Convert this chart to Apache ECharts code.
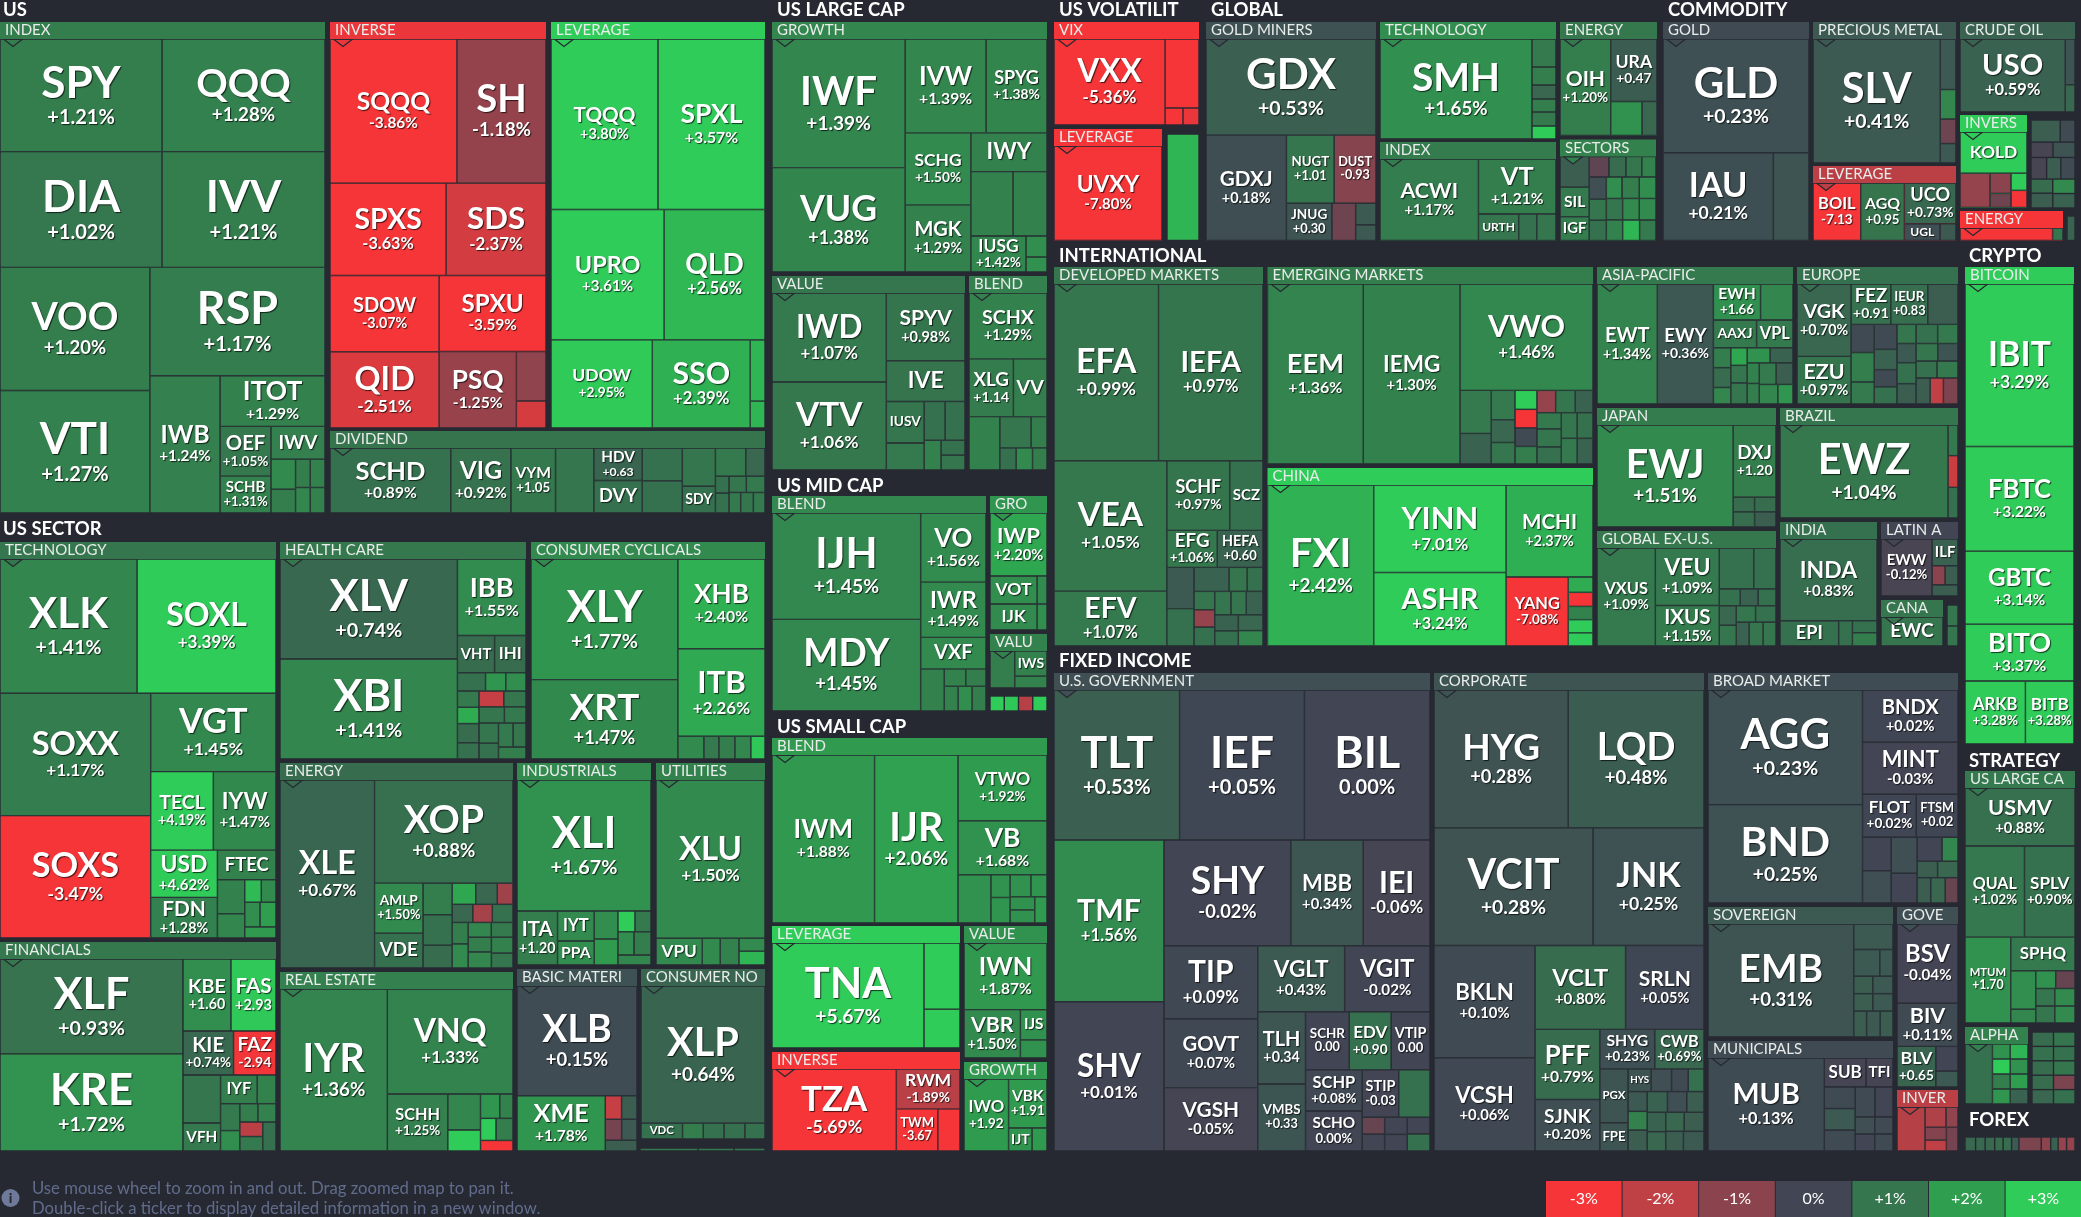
<!DOCTYPE html>
<html><head><meta charset="utf-8"><style>html,body{margin:0;padding:0;background:#262931}#c{width:2081px;height:1217px}</style>
<script src="https://cdn.jsdelivr.net/npm/echarts@6/dist/echarts.min.js"></script></head><body><div id="c"></div>
<script>
// Strings in a *Changes array are printed on the tile; plain numbers only set its colour. Tickers beyond the list are unlabelled.
const indexTickers=['SPY','QQQ','DIA','IVV','VOO','VTI','RSP','IWB','ITOT','OEF','SCHB','IWV'];
const indexWeights=[18100,18200,18600,18700,18300,18200,18800,9500,5200,2450,1800,1700,690,540,380,380,340,340];
const indexChanges=['+1.21%','+1.28%','+1.02%','+1.21%','+1.20%','+1.27%','+1.17%','+1.24%','+1.29%','+1.05%','+1.31%',1.25,1.5,1.2,1.2,1.3,1.4,1.3];
const inverseTickers=['SQQQ','SH','SPXS','SDS','SDOW','QID','SPXU','PSQ'];
const inverseWeights=[18150,12700,10600,9100,8200,8200,8000,5800,1400,750];
const inverseChanges=['-3.86%','-1.18%','-3.63%','-2.37%','-3.07%','-2.51%','-3.59%','-1.25%',-1.1,-2.4];
const leverageTickers=['TQQQ','SPXL','UPRO','QLD','UDOW','SSO'];
const leverageWeights=[18100,18100,14600,13000,8800,8500,850,360];
const leverageChanges=['+3.80%','+3.57%','+3.61%','+2.56%','+2.95%','+2.39%',2.5,2.5];
const dividendTickers=['SCHD','VIG','VYM','','HDV','DVY','','','','SDY'];
const dividendWeights=[7700,3800,2800,2400,1500,1500,1250,1220,1200,830,800,500,200,240,250,270,210,230,210];
const dividendChanges=['+0.89%','+0.92%','+1.05',1.0,'+0.63',0.9,0.9,0.9,1.0,0.9,1.1,0.7,0.9,0.9,1.0,1.1,1.1,1.0,1.1];
const techTickers=['XLK','SOXL','SOXX','SOXS','VGT','TECL','IYW','USD','FDN','FTEC'];
const techWeights=[18360,18600,18400,18400,9750,4840,4840,3080,2640,1670,880,620,340,300,345,360,315];
const techChanges=['+1.41%','+3.39%','+1.17%','-3.47%','+1.45%','+4.19%','+1.47%','+4.62%','+1.28%',1.3,1.3,1.4,2.6,1.5,1.6,2.0,1.9];
const healthTickers=['XLV','XBI','IBB','VHT','IHI'];
const healthWeights=[17800,17800,5200,1330,1120,480,340,340,320,320,380,320,360,320,380,320,360,280,320,280,300];
const healthChanges=['+0.74%','+1.41%','+1.55%',0.8,0.8,0.9,1.8,1.6,1.1,2.3,0.8,0.9,-2.1,1.0,1.0,1.1,1.0,0.9,1.1,1.0,1.2];
const cyclicalTickers=['XLY','XRT','XHB','ITB'];
const cyclicalWeights=[17700,11600,7750,7560,550,310,330,330,290];
const cyclicalChanges=['+1.77%','+1.47%','+2.40%','+2.26%',1.5,1.1,1.2,1.4,2.9];
const financialTickers=['XLF','KRE','KBE','FAS','KIE','FAZ','','VFH','IYF'];
const financialWeights=[17300,17700,3380,3170,2150,1800,1740,1000,1000,500,480,360,300,300,300,300,350];
const financialChanges=['+0.93%','+1.72%','+1.60','+2.93','+0.74%','-2.94',1.0,1.1,1.2,1.3,1.1,1.6,1.2,1.3,-1.9,1.1,0.9];
const energyTickers=['XLE','XOP','AMLP','VDE'];
const energyWeights=[17700,14200,2350,1630,870,840,620,460,420,300,340,320,340,310,350,310,290,310,340,310,290];
const energyChanges=['+0.67%','+0.88%','+1.50%',0.9,1.2,0.9,0.8,2.2,0.7,-1.4,0.7,-1.5,0.9,1.2,1.5,1.4,1.1,1.2,1.4,1.3,1.0];
const industrialTickers=['XLI','ITA','IYT','PPA'];
const industrialWeights=[17500,2120,1050,830,620,575,320,300,340,360,300];
const industrialChanges=['+1.67%','+1.20',1.5,1.6,1.6,1.9,3.0,1.1,1.6,1.2,1.4];
const utilityTickers=['XLU','VPU'];
const utilityWeights=[17400,1200,450,470,310,330];
const utilityChanges=['+1.50%',1.5,1.5,1.3,1.5,2.5];
const realEstateTickers=['IYR','VNQ','SCHH'];
const realEstateWeights=[17300,13100,3360,1120,640,430,290,310,340,310];
const realEstateChanges=['+1.36%','+1.33%','+1.25%',1.4,3.0,1.8,1.3,3.0,1.2,-3.0];
const basicTickers=['XLB','XME'];
const basicWeights=[13100,4800,350,330,310,290,310];
const basicChanges=['+0.15%','+1.78%',-2.1,0.5,-0.7,0.4,0.5];
const staplesTickers=['XLP','VDC'];
const staplesWeights=[17000,620,300,300,300,290];
const staplesChanges=['+0.64%',0.9,1.2,0.9,0.9,0.9];
const commsWeights=[228,136,116];
const commsChanges=[1.1,1.1,1.0];
const growthTickers=['IWF','VUG','IVW','SPYG','SCHG','MGK','IWY','','','IUSG'];
const growthWeights=[16900,13700,7440,5580,4600,4290,2850,2620,2100,1900,400,280];
const growthChanges=['+1.39%','+1.38%','+1.39%','+1.38%','+1.50%','+1.29%',1.3,1.3,1.3,'+1.42%',1.6,1.7];
const valueTickers=['IWD','VTV','SPYV','IVE','IUSV'];
const valueWeights=[10000,9900,5200,3100,1500,960,760,720,460,320,320];
const valueChanges=['+1.07%','+1.06%','+0.98%',0.95,1.0,1.1,0.9,0.9,1.3,0.9,1.0];
const blendTickers=['SCHX','XLG','VV'];
const blendWeights=[5070,2500,1880,1590,930,460,330,330,290];
const blendChanges=['+1.29%','+1.14',1.2,1.3,1.0,1.2,0.9,1.5,1.2];
const midBlendTickers=['IJH','MDY','VO','IWR','VXF'];
const midBlendWeights=[15700,13500,4420,3520,1980,940,340,320,310,310,310];
const midBlendChanges=['+1.45%','+1.45%','+1.56%','+1.49%',1.5,1.3,1.3,1.2,1.3,1.6,1.2];
const midGrowthTickers=['IWP','VOT','IJK'];
const midGrowthWeights=[3530,1270,1180,250,230];
const midGrowthChanges=['+2.20%',1.6,1.5,1.5,1.6];
const midValueTickers=['','IWS'];
const midValueWeights=[870,770,350];
const midValueChanges=[1.2,1.3,1.3];
const midOtherWeights=[210,210,210,210];
const midOtherChanges=[3.2,2.9,-1.8,3.2];
const smallBlendTickers=['IWM','IJR','VTWO','VB'];
const smallBlendWeights=[17100,13900,5740,4700,1520,400,450,420,320,290,290,290];
const smallBlendChanges=['+1.88%','+2.06%','+1.92%','+1.68%',1.7,1.7,1.8,1.7,1.8,1.7,1.7,1.9];
const smallLeverageTickers=['TNA'];
const smallLeverageWeights=[15800,2300,1330];
const smallLeverageChanges=['+5.67%',3.5,3.5];
const smallValueTickers=['IWN','VBR','IJS'];
const smallValueWeights=[5400,2630,750,440];
const smallValueChanges=['+1.87%','+1.50%',1.7,1.7];
const smallInverseTickers=['TZA','RWM','TWM'];
const smallInverseWeights=[9840,2400,1640,860];
const smallInverseChanges=['-5.69%','-1.89%','-3.67',-3.8];
const smallGrowthTickers=['IWO','VBK','IJT'];
const smallGrowthWeights=[3120,1810,500,310];
const smallGrowthChanges=['+1.92','+1.91',1.8,1.9];
const vixTickers=['VXX'];
const vixWeights=[9350,2240,270,240];
const vixChanges=['-5.36%',-3.6,-3.5,-2.8];
const volLeverageTickers=['UVXY'];
const volLeverageWeights=[10150];
const volLeverageChanges=['-7.80%'];
const volOtherWeights=[3400];
const volOtherChanges=[2.5];
const minersTickers=['GDX','GDXJ','NUGT','DUST','JNUG'];
const minersWeights=[16150,8320,3150,2750,1620,830,400,285];
const minersChanges=['+0.53%','+0.18%','+1.01','-0.93','+0.30',-0.6,0.4,0.4];
const globalTechTickers=['SMH'];
const globalTechWeights=[14900,620,390,300,276,300,276];
const globalTechChanges=['+1.65%',1.1,1.2,0.7,1.2,1.1,3.0];
const globalIndexTickers=['ACWI','VT','URTH'];
const globalIndexWeights=[7900,4160,1010,440,470];
const globalIndexChanges=['+1.17%','+1.21%',1.0,0.9,1.0];
const globalEnergyTickers=['OIH','URA'];
const globalEnergyWeights=[4700,2750,990,460];
const globalEnergyChanges=['+1.20%','+0.47',1.7,0.7];
const sectorsTickers=['','SIL','IGF'];
const sectorsWeights=[780,750,600,340,290,270,240,320,300,290,280,310,300,290,280,300,300,290,280];
const sectorsChanges=[0.5,1.1,1.2,-0.4,0.8,1.0,1.3,0.2,1.0,0.9,1.6,1.2,1.6,1.0,1.3,1.5,1.5,2.5,1.1];
const goldTickers=['GLD','IAU'];
const goldWeights=[16500,9570,3045];
const goldChanges=['+0.23%','+0.21%',0.3];
const preciousTickers=['SLV'];
const preciousWeights=[15500,735,420,345,270];
const preciousChanges=['+0.41%',0.4,1.4,-0.6,0.4];
const commodityLevTickers=['BOIL','AGQ','UCO','UGL'];
const commodityLevWeights=[2680,2450,2040,560,240];
const commodityLevChanges=['-7.13','+0.95','+0.73%',0.2,0.4];
const crudeTickers=['USO'];
const crudeWeights=[7490,405,234];
const crudeChanges=['+0.59%',0.3,0.7];
const commodityInvTickers=['KOLD'];
const commodityInvWeights=[2640,960,380,260,240,240];
const commodityInvChanges=[3.0,-1.2,-1.0,-0.6,3.0,-3.0];
const commodityOtherWeights=[610,300,310,310,310,280,280,280,295,295,295];
const commodityOtherChanges=[0.5,0.1,-0.1,0.3,-0.1,0.5,0.1,0.8,0.5,1.5,0.6];
const commodityEnergyWeights=[1012,100];
const commodityEnergyChanges=[-3.2,1.0];
const commodityLastWeights=[196];
const commodityLastChanges=[0.6];
const developedTickers=['EFA','IEFA','VEA','EFV','SCHF','SCZ','EFG','HEFA'];
const developedWeights=[18100,18100,14400,6000,4230,2210,1770,1600,1050,950,780,390,340,340,320,350,340,320,350,340,320,350,340];
const developedChanges=['+0.99%','+0.97%','+1.05%','+1.07%','+0.97%',0.9,'+1.06%','+0.60',0.4,0.9,0.6,1.0,0.9,1.0,-1.2,0.9,1.0,1.0,0.6,0.6,0.9,0.7,1.4];
const emergingTickers=['EEM','IEMG','VWO'];
const emergingWeights=[17100,17280,14000,1280,900,650,500,470,380,370,370,350,380,400,360,360,400,380,370,370,370,370];
const emergingChanges=['+1.36%','+1.30%','+1.46%',1.1,0.6,1.1,0.7,1.0,3.0,-3.2,0.1,1.2,-1.2,1.0,0.6,1.1,1.0,0.9,1.0,0.9,1.1,0.6];
const chinaTickers=['FXI','YINN','ASHR','MCHI','YANG'];
const chinaWeights=[16800,11350,9500,7800,4150,340,310,290,290,290];
const chinaChanges=['+2.42%','+7.01%','+3.24%','+2.37%','-7.08%',2.3,-3.2,1.3,3.0,3.0];
const asiaTickers=['EWT','EWY','EWH','','AAXJ','VPL'];
const asiaWeights=[7000,6500,1600,1090,1120,940,306,306,252,252,252,306,306,306,216,216,323,323,323,260];
const asiaChanges=['+1.34%','+0.36%','+1.66',1.4,1.1,1.1,1.2,0.8,1.4,2.2,1.0,1.0,1.7,0.6,1.3,1.2,1.1,0.5,1.4,1.8];
const europeTickers=['VGK','EZU','FEZ','IEUR'];
const europeWeights=[3460,2260,1390,1290,1050,550,575,425,475,380,320,320,300,340,320,300,330,320,310,290,290,290,300,280,310];
const europeChanges=['+0.70%','+0.97%','+0.91','+0.83',0.5,0.1,1.2,1.1,0.1,0.6,0.1,0.9,1.0,0.9,1.1,0.4,0.9,0.5,1.0,0.3,0.9,1.1,0.5,-2.0,-0.8];
const japanTickers=['EWJ','DXJ'];
const japanWeights=[13800,3020,280,294,280,294];
const japanChanges=['+1.51%','+1.20',0.8,0.8,0.8,0.5];
const globalExTickers=['VXUS','VEU','IXUS'];
const globalExWeights=[5630,3590,2520,1350,860,320,270,270,300,320,285,304,276,300,276];
const globalExChanges=['+1.09%','+1.09%','+1.15%',0.9,0.9,0.9,0.6,0.9,0.7,1.0,1.0,0.9,0.6,1.0,1.0];
const brazilTickers=['EWZ'];
const brazilWeights=[15400,270,280,270];
const brazilChanges=['+1.04%',1.1,-2.2,0.9];
const indiaTickers=['INDA','EPI'];
const indiaWeights=[7700,1400,310,260,290];
const indiaChanges=['+0.83%',0.9,0.9,0.9,1.2];
const latinTickers=['EWW','ILF'];
const latinWeights=[2850,650,220,220,260];
const latinChanges=['-0.12%',0.6,-1.0,0.5,0.5];
const canadaTickers=['EWC'];
const canadaWeights=[1740];
const canadaChanges=[1.0];
const intlOtherWeights=[231,220];
const intlOtherChanges=[1.0,1.0];
const bitcoinTickers=['IBIT','FBTC','GBTC','BITO','ARKB','BITB'];
const bitcoinWeights=[17600,11300,7850,6100,3720,2980];
const bitcoinChanges=['+3.29%','+3.22%','+3.14%','+3.37%','+3.28%','+3.28%'];
const usLargeTickers=['USMV','QUAL','SPLV','MTUM','SPHQ'];
const usLargeWeights=[6270,5310,4500,3830,2080,910,310,320,310,300,290,320,310];
const usLargeChanges=['+0.88%','+1.02%','+0.90%','+1.70',1.1,1.6,1.4,1.7,-0.5,1.0,1.0,1.5,1.5];
const alphaWeights=[1600,240,240,240,240,240,240,240,240];
const alphaChanges=[0.9,1.7,2.5,3.0,1.7,1.2,1.8,2.0,0.6];
const strategyOtherWeights=[280,280,280,280,280,280,280,280,280,280];
const strategyOtherChanges=[0.8,1.0,0.9,0.9,0.8,1.0,0.8,0.7,-0.8,0.9];
const forexWeights=[126,112,112,98,98,84,280,112,84,98,98];
const forexChanges=[0.7,0.7,0.7,0.8,0.8,0.4,-0.8,-1.0,0.6,-1.2,-1.2];
const govTickers=['TLT','IEF','BIL','TMF','SHV','SHY','MBB','IEI','TIP','GOVT','VGSH','VGLT','VGIT','TLH','VMBS','SCHR','EDV','VTIP','SCHP','SCHO','STIP'];
const govWeights=[18600,18500,18600,17550,16200,13200,7500,6900,6700,6300,5800,5600,5500,3340,3100,2450,2340,2170,2240,2180,1650,1410,340,340,350,340,340,350];
const govChanges=['+0.53%','+0.05%','0.00%','+1.56%','+0.01%','-0.02%','+0.34%','-0.06%','+0.09%','+0.07%','-0.05%','+0.43%','-0.02%','+0.34','+0.33','0.00','+0.90','0.00','+0.08%','0.00%','-0.03',0.9,-0.5,-0.02,0.0,0.0,0.0,0.9];
const corpTickers=['HYG','LQD','VCIT','JNK','BKLN','VCSH','VCLT','SRLN','PFF','SJNK','SHYG','CWB','PGX','FPE','HYS'];
const corpWeights=[18200,18400,18400,12800,11100,9200,7400,6400,4400,3220,2070,1850,1440,740,480,420,340,320,340,320,360,380,360,320,320,320,315,338,312,364];
const corpChanges=['+0.28%','+0.48%','+0.28%','+0.25%','+0.10%','+0.06%','+0.80%','+0.05%','+0.79%','+0.20%','+0.23%','+0.69%',0.3,0.3,0.3,0.2,0.1,0.9,0.4,1.3,0.5,0.6,0.2,0.5,0.6,0.7,0.7,0.5,0.5,0.4];
const broadTickers=['AGG','BND','BNDX','MINT','FLOT','FTSM'];
const broadWeights=[17500,15000,4850,4850,2230,1720,900,870,875,720,550,345,300,300,310,330,290];
const broadChanges=['+0.23%','+0.25%','+0.02%','-0.03%','+0.02%','+0.02',0.0,0.2,0.2,0.0,0.0,1.4,0.5,0.7,0.5,0.7,-0.5];
const sovereignTickers=['EMB'];
const sovereignWeights=[16400,950,650,320,300,320,300,320,300,320,300];
const sovereignChanges=['+0.31%',0.4,0.4,0.4,0.5,0.4,0.5,0.4,0.5,0.4,0.5];
const govSubTickers=['BSV','BIV','BLV'];
const govSubWeights=[4760,2560,1520,510,320];
const govSubChanges=['-0.04%','+0.11%','+0.65',0.0,0.4];
const muniTickers=['MUB','SUB','TFI'];
const muniWeights=[10700,1150,730,620,620,600,550,500,300,300,280,280];
const muniChanges=['+0.13%',-0.05,-0.05,0.1,0.4,0.1,0.1,0.0,0.2,0.0,0.1,0.1];
const bondInvWeights=[1150,380,210,240,200,240];
const bondInvChanges=[-1.8,-1.7,-1.1,-0.9,-2.0,-0.7];

const sectionTitles=['US','US SECTOR','US LARGE CAP','US VOLATILIT','GLOBAL','COMMODITY','US MID CAP','US SMALL CAP','INTERNATIONAL','CRYPTO','FIXED INCOME','STRATEGY','FOREX'];
const legendLabels=['-3%','-2%','-1%','0%','+1%','+2%','+3%'];
const legendChanges=[-3,-2,-1,0,1,2,3];
const hintLines=['Use mouse wheel to zoom in and out. Drag zoomed map to pan it.','Double-click a ticker to display detailed information in a new window.'];

// ---------- page layout (containers, not data) ----------
const sectionPos=[[3,10],[3,529],[777,10],[1059,10],[1211,10],[1668,10],[777,486],[777,727],[1059,256],[1969,256],[1059,661],[1969,761],[1969,1120]];
const P=(name,box,head,t,w,c)=>({name,box,head,t,w,c});
const panels=[
P('INDEX',[0,22,325,513],1.2,indexTickers,indexWeights,indexChanges),
P('INVERSE',[330,22,546,428],-2.8,inverseTickers,inverseWeights,inverseChanges),
P('LEVERAGE',[551,22,765,428],3.2,leverageTickers,leverageWeights,leverageChanges),
P('DIVIDEND',[330,431,765,513],0.95,dividendTickers,dividendWeights,dividendChanges),
P('TECHNOLOGY',[0,542,276,938],1.0,techTickers,techWeights,techChanges),
P('HEALTH CARE',[280,542,526,759],1.05,healthTickers,healthWeights,healthChanges),
P('CONSUMER CYCLICALS',[531,542,765,759],1.5,cyclicalTickers,cyclicalWeights,cyclicalChanges),
P('FINANCIALS',[0,942,276,1151],1.05,financialTickers,financialWeights,financialChanges),
P('ENERGY',[280,763,513,968],0.8,energyTickers,energyWeights,energyChanges),
P('INDUSTRIALS',[517,763,651,965],1.5,industrialTickers,industrialWeights,industrialChanges),
P('UTILITIES',[656,763,765,965],1.3,utilityTickers,utilityWeights,utilityChanges),
P('REAL ESTATE',[280,972,513,1151],1.25,realEstateTickers,realEstateWeights,realEstateChanges),
P('BASIC MATERI',[517,969,637,1151],0.25,basicTickers,basicWeights,basicChanges),
P('CONSUMER NO',[641,969,765,1139],0.65,staplesTickers,staplesWeights,staplesChanges),
P('',[640,1148,765,1151],0,[],commsWeights,commsChanges),
P('GROWTH',[772,22,1047,272],1.4,growthTickers,growthWeights,growthChanges),
P('VALUE',[772,276,965,470],1.0,valueTickers,valueWeights,valueChanges),
P('BLEND',[969,276,1047,470],1.25,blendTickers,blendWeights,blendChanges),
P('BLEND',[772,496,986,711],1.45,midBlendTickers,midBlendWeights,midBlendChanges),
P('GRO',[990,496,1047,630],1.8,midGrowthTickers,midGrowthWeights,midGrowthChanges),
P('VALU',[990,634,1047,688],1.3,midValueTickers,midValueWeights,midValueChanges),
P('',[990,696,1047,711],0,[],midOtherWeights,midOtherChanges),
P('BLEND',[772,738,1047,923],1.9,smallBlendTickers,smallBlendWeights,smallBlendChanges),
P('LEVERAGE',[772,926,960,1048],3.5,smallLeverageTickers,smallLeverageWeights,smallLeverageChanges),
P('VALUE',[964,926,1047,1058],1.7,smallValueTickers,smallValueWeights,smallValueChanges),
P('INVERSE',[772,1052,960,1151],-3.4,smallInverseTickers,smallInverseWeights,smallInverseChanges),
P('GROWTH',[964,1062,1047,1151],1.85,smallGrowthTickers,smallGrowthWeights,smallGrowthChanges),
P('VIX',[1054,22,1199,125],-3.5,vixTickers,vixWeights,vixChanges),
P('LEVERAGE',[1054,129,1162,240.5],-3.5,volLeverageTickers,volLeverageWeights,volLeverageChanges),
P('',[1167,134,1199,240.5],0,[],volOtherWeights,volOtherChanges),
P('GOLD MINERS',[1206,22,1376,240.5],0.25,minersTickers,minersWeights,minersChanges),
P('TECHNOLOGY',[1380,22,1556,139],1.6,globalTechTickers,globalTechWeights,globalTechChanges),
P('INDEX',[1380,142,1556,240.5],1.15,globalIndexTickers,globalIndexWeights,globalIndexChanges),
P('ENERGY',[1560,22,1657,135.5],1.05,globalEnergyTickers,globalEnergyWeights,globalEnergyChanges),
P('SECTORS',[1560,139.5,1656,240.5],1.3,sectorsTickers,sectorsWeights,sectorsChanges),
P('GOLD',[1663,22,1809,240.5],0.1,goldTickers,goldWeights,goldChanges),
P('PRECIOUS METAL',[1813,22,1956,163],0.4,preciousTickers,preciousWeights,preciousChanges),
P('LEVERAGE',[1813,166,1956,240.5],-1.9,commodityLevTickers,commodityLevWeights,commodityLevChanges),
P('CRUDE OIL',[1960,22,2075,112],0.6,crudeTickers,crudeWeights,crudeChanges),
P('INVERS',[1960,115,2027,207.5],3.2,commodityInvTickers,commodityInvWeights,commodityInvChanges),
P('',[2031,120,2075,208],0,[],commodityOtherWeights,commodityOtherChanges),
P('ENERGY',[1960,211,2063,240.5],-3.2,[],commodityEnergyWeights,commodityEnergyChanges),
P('',[2067,216,2075,240.5],0,[],commodityLastWeights,commodityLastChanges),
P('DEVELOPED MARKETS',[1054,267,1263,646],1.0,developedTickers,developedWeights,developedChanges),
P('EMERGING MARKETS',[1267.5,267,1593,464],1.2,emergingTickers,emergingWeights,emergingChanges),
P('CHINA',[1267.5,468,1593,646],3.2,chinaTickers,chinaWeights,chinaChanges),
P('ASIA-PACIFIC',[1597,267,1793,404],1.1,asiaTickers,asiaWeights,asiaChanges),
P('EUROPE',[1797,267,1958,404],0.9,europeTickers,europeWeights,europeChanges),
P('JAPAN',[1597,408,1776,527],1.15,japanTickers,japanWeights,japanChanges),
P('GLOBAL EX-U.S.',[1597,531,1776,646],1.05,globalExTickers,globalExWeights,globalExChanges),
P('BRAZIL',[1780,408,1958,518],1.0,brazilTickers,brazilWeights,brazilChanges),
P('INDIA',[1780,522,1877,646],0.9,indiaTickers,indiaWeights,indiaChanges),
P('LATIN A',[1881,522,1958,596],0.0,latinTickers,latinWeights,latinChanges),
P('CANA',[1881,600,1943,646],1.0,canadaTickers,canadaWeights,canadaChanges),
P('',[1947,605,1958,646],0,[],intlOtherWeights,intlOtherChanges),
P('BITCOIN',[1965,267,2074,744],3.2,bitcoinTickers,bitcoinWeights,bitcoinChanges),
P('US LARGE CA',[1965,771,2075,1023],1.1,usLargeTickers,usLargeWeights,usLargeChanges),
P('ALPHA',[1965,1027,2028,1104],1.3,[],alphaWeights,alphaChanges),
P('',[2032,1032,2075,1104],0,[],strategyOtherWeights,strategyOtherChanges),
P('',[1965,1137,2075,1151],0,[],forexWeights,forexChanges),
P('U.S. GOVERNMENT',[1054,673,1430,1151],0.2,govTickers,govWeights,govChanges),
P('CORPORATE',[1434,673,1704,1151],0.3,corpTickers,corpWeights,corpChanges),
P('BROAD MARKET',[1708,673,1958,903],0.15,broadTickers,broadWeights,broadChanges),
P('SOVEREIGN',[1708,907,1893,1037],0.4,sovereignTickers,sovereignWeights,sovereignChanges),
P('GOVE',[1897,907,1958,1087],0.2,govSubTickers,govSubWeights,govSubChanges),
P('MUNICIPALS',[1708,1041,1893,1151],0.1,muniTickers,muniWeights,muniChanges),
P('INVER',[1897,1090,1958,1151],-1.9,[],bondInvWeights,bondInvChanges)
];
const BG='#262931', FONT='Lato', W='700', HEAD=17, EDGE=.7;
const stops=[[-3,[246,53,56]],[-2,[191,64,69]],[-1,[139,68,78]],[0,[65,69,84]],[1,[53,118,78]],[2,[47,158,79]],[3,[48,204,90]]];
function col(v){
  v=Math.max(-3,Math.min(3,v));
  for(let i=0;i<6;i++){const a=stops[i],b=stops[i+1];
    if(v<=b[0]){const t=(v-a[0])/(b[0]-a[0]);
      return 'rgb('+a[1].map((x,k)=>Math.round(x+(b[1][k]-x)*t)).join(',')+')';}}
}
const chg=c=>typeof c==='string'?parseFloat(c):c;
const ctx=document.createElement('canvas').getContext('2d');
const em=(s)=>{ctx.font=W+' 100px '+FONT;return ctx.measureText(s).width/100;};

function leafLabel(t,c,g){
  const hasPct=typeof c==='string';
  if(!t&&!hasPct) return {show:false};
  if(!g) return {show:false};
  const w=g.width,h=g.height;
  const frac=Math.max(.58,Math.min(.82,.58+(100-w)/60*.24));
  let fs=Math.min(.27*Math.sqrt(w*h)+7.7,frac*w/em(t),(hasPct?.52:.72)*h);
  let ps=0;
  if(hasPct) ps=Math.min(.235*fs+9.6,.9*w/em(c));
  let lt=fs*1.02, lp=ps*1.14;
  const total=lt+lp, avail=h-3;
  if(total>avail){const k=avail/total;fs*=k;ps*=k;lt*=k;lp*=k;}
  const gap=Math.max(0,(h-2-lt-lp)/2);
  const rs={fontFamily:FONT,fontWeight:W,color:'#fff',textShadowColor:'rgba(0,0,0,.7)',textShadowOffsetX:1,textShadowOffsetY:1,textShadowBlur:1,align:'center'};
  return {show:true,formatter:'{t|'+t+'}'+(hasPct?'\n{p|'+c+'}':''),position:'inside',align:'center',verticalAlign:'middle',overflow:'none',padding:[gap,0,0,0],
    rich:{t:Object.assign({fontSize:fs,lineHeight:lt},rs),p:Object.assign({fontSize:ps||10,lineHeight:lp||1},rs)}};
}
const leafStyle={borderWidth:EDGE,borderColor:BG,gapWidth:0};
function buildSeries(p,geo){
  const leaves=p.w.map((v,i)=>({name:p.t[i]||'',value:(Math.sqrt(v)+1)*(Math.sqrt(v)+1), // weights were read inside the tile borders
    itemStyle:{color:col(chg(p.c[i])),borderWidth:EDGE,borderColor:BG},
    label:leafLabel(p.t[i]||'',p.c[i],geo&&geo[i])}));
  const[x0,y0,x1,y1]=p.box;
  const base={type:'treemap',left:x0,top:y0,width:x1-x0,height:y1-y0,roam:false,nodeClick:false,silent:true,
    breadcrumb:{show:false},sort:false,squareRatio:1,animation:false,visibleMin:1,tooltip:{show:false},emphasis:{disabled:true}};
  if(!p.name){
    return Object.assign(base,{levels:[{itemStyle:{borderWidth:0,gapWidth:0,borderColor:BG}},{itemStyle:leafStyle}],data:leaves});
  }
  const sum=leaves.reduce((a,b)=>a+b.value,0), hc=col(p.head);
  return Object.assign(base,{
    levels:[{itemStyle:{borderWidth:0,gapWidth:0,borderColor:BG}},
      {itemStyle:{borderWidth:0,gapWidth:0},upperLabel:{show:true,height:HEAD,color:'#e8ecea',fontFamily:FONT,fontSize:15,fontWeight:400,padding:[0,0,0,5],
        textShadowColor:'rgba(0,0,0,.4)',textShadowOffsetX:1,textShadowOffsetY:1,textShadowBlur:0,overflow:'none',align:'left'}},
      {itemStyle:leafStyle}],
    data:[{name:p.name,value:sum,itemStyle:{color:hc,borderColor:hc},children:leaves}]});
}
function decorations(){
  const g=[];
  sectionTitles.forEach((s,i)=>g.push({type:'text',x:sectionPos[i][0],y:sectionPos[i][1],z:50,silent:true,
    style:{text:s,fill:'#fff',font:'700 18.5px '+FONT,textVerticalAlign:'middle'}}));
  panels.forEach(p=>{if(!p.name)return;const x=p.box[0],y=p.box[1];
    g.push({type:'polygon',z:40,silent:true,shape:{points:[[x+4,y+HEAD+.5],[x+13,y+HEAD+7.5],[x+22,y+HEAD+.5]]},style:{fill:col(p.head),stroke:BG,lineWidth:1.2}});
  });
  legendLabels.forEach((s,i)=>{
    const x=1546+i*76.6;
    g.push({type:'rect',z:30,silent:true,shape:{x:x,y:1181,width:75.6,height:36},style:{fill:col(legendChanges[i])}});
    g.push({type:'text',z:31,silent:true,x:x+37.8,y:1199,style:{text:s,fill:'#fff',font:'400 16px '+FONT,textAlign:'center',textVerticalAlign:'middle'}});
  });
  g.push({type:'circle',z:30,silent:true,shape:{cx:10.5,cy:1198,r:9},style:{fill:'#6f7a9a'}});
  g.push({type:'text',z:31,silent:true,x:10.5,y:1198,style:{text:'i',fill:BG,font:'900 14px '+FONT,textAlign:'center',textVerticalAlign:'middle'}});
  hintLines.forEach((s,i)=>g.push({type:'text',z:30,silent:true,x:32,y:1189+i*20,style:{text:s,fill:'#616c8c',font:'400 16.7px '+FONT,textVerticalAlign:'middle'}}));
  return g;
}
const chart=echarts.init(document.getElementById('c'),null,{renderer:'canvas'});
function build(geos){return {backgroundColor:BG,animation:false,series:panels.map((p,i)=>buildSeries(p,geos&&geos[i])),graphic:decorations()};}
chart.setOption(build(null));
// second pass: fit each tile's text to the rectangle the treemap layout gave it
const geos=panels.map((p,i)=>{
  const root=chart.getModel().getSeriesByIndex(i).getData().tree.root;
  const list=p.name?root.children[0].children:root.children;
  return list.map(n=>{const l=n.getLayout()||{width:0,height:0};return{width:l.width,height:l.height};});
});
chart.setOption(build(geos),true);
</script></body></html>
